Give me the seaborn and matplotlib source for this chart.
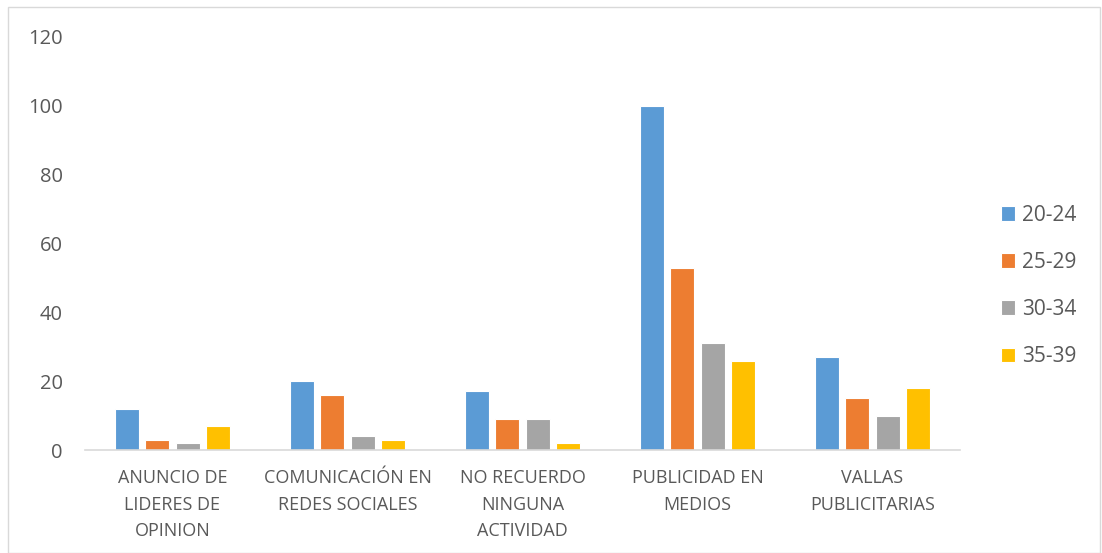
import numpy as np
import pandas as pd
import matplotlib.pyplot as plt
import seaborn as sns
from matplotlib.patches import Rectangle

categorias = ['ANUNCIO DE\nLIDERES DE\nOPINION', 'COMUNICACIÓN EN\nREDES SOCIALES',
              'NO RECUERDO\nNINGUNA\nACTIVIDAD', 'PUBLICIDAD EN\nMEDIOS', 'VALLAS\nPUBLICITARIAS']
edades = ['20-24', '25-29', '30-34', '35-39']
v_20_24 = [12, 20, 17, 100, 27]
v_25_29 = [3, 16, 9, 53, 15]
v_30_34 = [2, 4, 9, 31, 10]
v_35_39 = [7, 3, 2, 26, 18]
colores = ['#5B9BD5', '#ED7D31', '#A5A5A5', '#FFC000']

df = pd.DataFrame({'categoria': categorias * 4,
                   'edad': np.repeat(edades, 5),
                   'valor': v_20_24 + v_25_29 + v_30_34 + v_35_39})

sns.set_style('white')
plt.rcParams['font.family'] = ['Open Sans', 'DejaVu Sans']

fig = plt.figure(figsize=(11.02, 5.53), dpi=100)
ax = fig.add_axes([85 / 1102, 1 - 450 / 553, 875 / 1102, 413 / 553])

sns.barplot(data=df, x='categoria', y='valor', hue='edad', palette=colores,
            saturation=1, width=0.69, gap=0.2, ax=ax, edgecolor='white', linewidth=0.8)

ax.set_ylim(0, 120)
ax.set_yticks(range(0, 121, 20))
ax.set_xlim(-0.5, 4.5)
ax.set_xlabel('')
ax.set_ylabel('')
ax.tick_params(axis='y', labelsize=14.5, labelcolor='#595959', length=0, pad=16)
ax.tick_params(axis='x', labelsize=13, labelcolor='#595959', length=0, pad=14)
for lbl in ax.get_xticklabels():
    lbl.set_linespacing(1.6)
for s in ['top', 'right', 'left']:
    ax.spines[s].set_visible(False)
ax.spines['bottom'].set_color('#D9D9D9')
ax.spines['bottom'].set_linewidth(1.2)

ax.legend(loc='center left', bbox_to_anchor=((982 - 85) / 875, 0.397),
          frameon=False, fontsize=15, labelcolor='#595959', handlelength=0.7,
          handleheight=0.7, handletextpad=0.3, labelspacing=1.25)

fig.patches.append(Rectangle((8 / 1102, 0), 1092 / 1102, 1 - 7 / 553, transform=fig.transFigure,
                             fill=False, edgecolor='#D9D9D9', linewidth=1))

plt.savefig('out.png', dpi=100)
